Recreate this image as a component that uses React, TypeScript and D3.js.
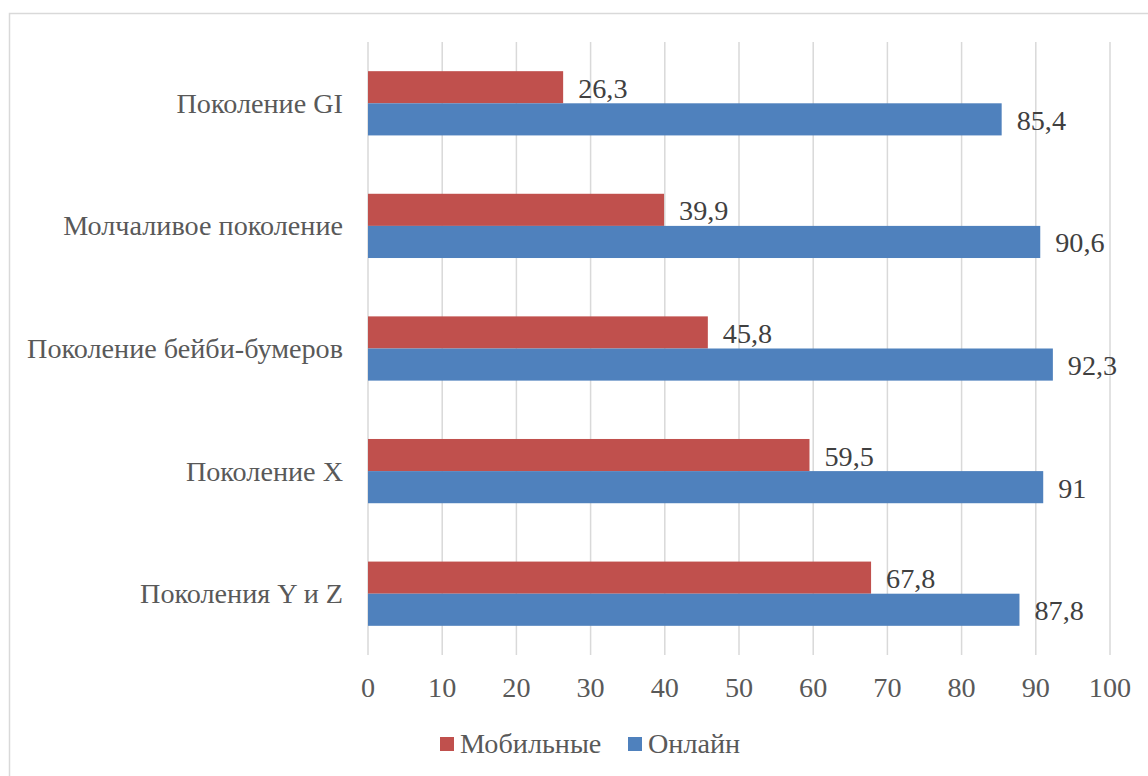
import React from "react";
import * as d3 from "d3";

const categories = ["Поколение GI", "Молчаливое поколение", "Поколение бейби-бумеров", "Поколение X", "Поколения Y и Z"];
const mobile = [26.3, 39.9, 45.8, 59.5, 67.8];
const online = [85.4, 90.6, 92.3, 91, 87.8];
const seriesNames = ["Мобильные", "Онлайн"];
const seriesColors = ["#C0504D", "#4F81BD"];
const xTicks = [0, 10, 20, 30, 40, 50, 60, 70, 80, 90, 100];

const W = 1148;
const H = 776;
const FONT = "Liberation Serif";
const FS = 28.2;

export default function App() {
  const x = d3.scaleLinear().domain([0, 100]).range([368, 1110]);
  const y = d3.scaleBand<string>().domain(categories).range([42, 655]).padding(0);
  const step = y.step();
  const barH = step * 0.262;
  const fmt = (v: number) => String(v).replace(".", ",");

  return (
    <svg width={W} height={H} style={{ position: "absolute", left: 0, top: 0, background: "#fff" }}>
      <rect x={9.5} y={13.5} width={1300} height={900} fill="#fff" stroke="#D9D9D9" strokeWidth={1.5} />
      {xTicks.map((t) => (
        <line key={"g" + t} x1={x(t)} x2={x(t)} y1={42} y2={655} stroke="#D9D9D9" strokeWidth={1.5} />
      ))}
      {categories.map((c, i) => {
        const cy = (y(c) as number) + step / 2;
        return (
          <g key={c}>
            <rect x={x(0)} y={cy - barH} width={x(mobile[i]) - x(0)} height={barH} fill={seriesColors[0]} />
            <rect x={x(0)} y={cy} width={x(online[i]) - x(0)} height={barH} fill={seriesColors[1]} />
            <text x={343} y={cy + 9.5} textAnchor="end" fontFamily={FONT} fontSize={FS} fill="#595959">{c}</text>
            <text x={x(mobile[i]) + 15} y={cy - barH / 2 + 10.5} fontFamily={FONT} fontSize={FS} fill="#404040">{fmt(mobile[i])}</text>
            <text x={x(online[i]) + 15} y={cy + barH / 2 + 10.5} fontFamily={FONT} fontSize={FS} fill="#404040">{fmt(online[i])}</text>
          </g>
        );
      })}
      {xTicks.map((t) => (
        <text key={"t" + t} x={x(t)} y={697} textAnchor="middle" fontFamily={FONT} fontSize={FS} fill="#595959">{t}</text>
      ))}
      <g>
        <rect x={440} y={737} width={14} height={14} fill={seriesColors[0]} />
        <text x={460} y={753} fontFamily={FONT} fontSize={FS} fill="#595959">{seriesNames[0]}</text>
        <rect x={628} y={737} width={14} height={14} fill={seriesColors[1]} />
        <text x={648} y={753} fontFamily={FONT} fontSize={FS} fill="#595959">{seriesNames[1]}</text>
      </g>
    </svg>
  );
}
